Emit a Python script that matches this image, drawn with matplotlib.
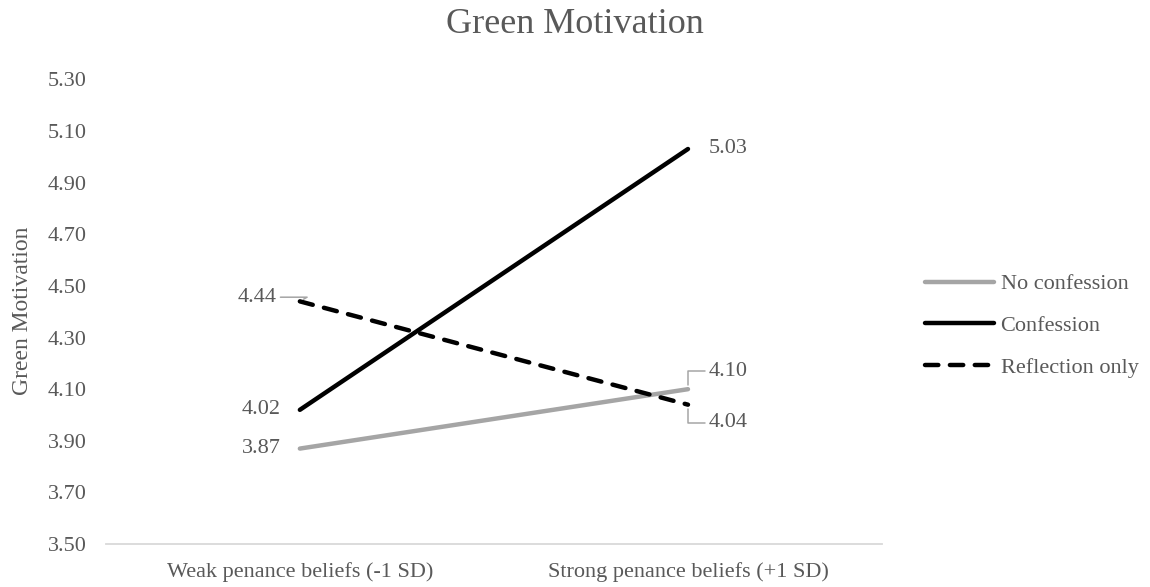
import matplotlib
matplotlib.use("Agg")
import matplotlib.pyplot as plt
from matplotlib.lines import Line2D

# data
categories = ["Weak penance beliefs (-1 SD)", "Strong penance beliefs (+1 SD)"]
no_confession = [3.87, 4.10]
confession = [4.02, 5.03]
reflection_only = [4.44, 4.04]
series_names = ["No confession", "Confession", "Reflection only"]
yticks = [3.50, 3.70, 3.90, 4.10, 4.30, 4.50, 4.70, 4.90, 5.10, 5.30]

plt.rcParams["font.family"] = ["Liberation Serif", "DejaVu Serif"]
text_col = "#595959"
grey = "#A5A5A5"
lw = 3.2
dash = (3.0, 2.6)

fig = plt.figure(figsize=(11.5, 5.87), dpi=100)
ax = fig.add_axes([0.092, 0.073, 0.675, 0.792])

x = range(len(categories))
ax.plot(x, no_confession, color=grey, lw=lw, solid_capstyle="round")
ax.plot(x, confession, color="black", lw=lw, solid_capstyle="round")
ax.plot(x, reflection_only, color="black", lw=lw, dashes=dash, dash_capstyle="round")

ax.set_xlim(-0.5, 1.5)
ax.set_ylim(3.50, 5.30)
ax.set_yticks(yticks)
ax.set_yticklabels([f"{v:.2f}" for v in yticks])
ax.set_xticks(list(x))
ax.set_xticklabels(categories)
ax.tick_params(length=0, labelsize=16, labelcolor=text_col)
ax.tick_params(axis="y", pad=14)
ax.tick_params(axis="x", pad=13)
for s in ["top", "right", "left"]:
    ax.spines[s].set_visible(False)
ax.spines["bottom"].set_color("#D9D9D9")
ax.spines["bottom"].set_linewidth(1.3)

fig.text(0.02, 0.47, "Green Motivation", rotation=90, fontsize=17,
         color=text_col, ha="center", va="center")
fig.text(0.5, 0.959, "Green Motivation", fontsize=26, color=text_col,
         ha="center", va="center")

# data labels
lab = dict(fontsize=16, color=text_col, va="center")
lead = dict(arrowstyle="-", color=grey, lw=1.1, shrinkA=1, shrinkB=3)
ax.annotate(f"{no_confession[0]:.2f}", (0, no_confession[0]), xytext=(-14, 0),
            textcoords="offset points", ha="right", **lab)
ax.annotate(f"{confession[0]:.2f}", (0, confession[0]), xytext=(-14, 0),
            textcoords="offset points", ha="right", **lab)
ax.annotate(f"{reflection_only[0]:.2f}", (0, reflection_only[0]), xytext=(-17, 3),
            textcoords="offset points", ha="right", **lab,
            arrowprops=dict(**lead, relpos=(1, 0.5),
                            connectionstyle="angle,angleA=0,angleB=30,rad=0"))
ax.annotate(f"{confession[1]:.2f}", (1, confession[1]), xytext=(15, 0),
            textcoords="offset points", ha="left", **lab)
ax.annotate(f"{no_confession[1]:.2f}", (1, no_confession[1]), xytext=(15, 13),
            textcoords="offset points", ha="left", **lab,
            arrowprops=dict(**lead, relpos=(0, 0.5),
                            connectionstyle="angle,angleA=0,angleB=90,rad=0"))
ax.annotate(f"{reflection_only[1]:.2f}", (1, reflection_only[1]), xytext=(15, -13),
            textcoords="offset points", ha="left", **lab,
            arrowprops=dict(**lead, relpos=(0, 0.5),
                            connectionstyle="angle,angleA=0,angleB=90,rad=0"))

handles = [
    Line2D([], [], color=grey, lw=lw, solid_capstyle="round"),
    Line2D([], [], color="black", lw=lw, solid_capstyle="round"),
    Line2D([], [], color="black", lw=lw, dashes=dash, dash_capstyle="round"),
]
leg = fig.legend(handles, series_names, loc="center left",
                 bbox_to_anchor=(0.787, 0.445), frameon=False, fontsize=16,
                 handlelength=3.1, handletextpad=0.3, labelspacing=0.95)
for t in leg.get_texts():
    t.set_color(text_col)

fig.savefig("out.png", dpi=100)
